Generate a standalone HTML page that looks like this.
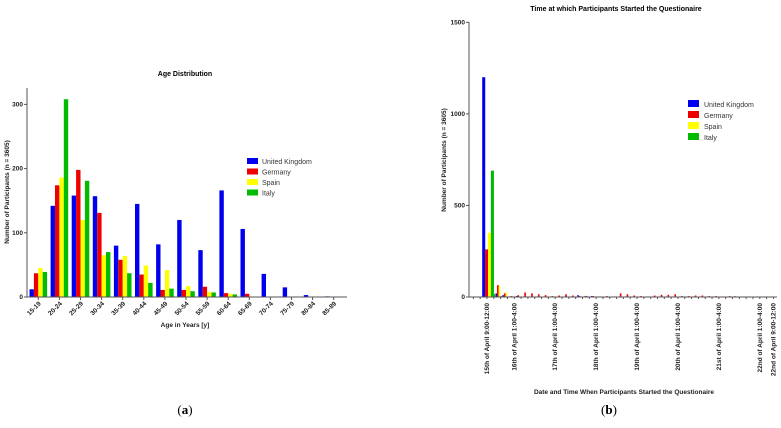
<!DOCTYPE html>
<html><head><meta charset="utf-8"><style>
html,body{margin:0;padding:0;background:#fff;}
svg{display:block;font-family:"Liberation Sans",sans-serif;}
.t{font-size:6.5px;font-weight:bold;fill:#222;}
</style></head><body>
<svg id="s" width="781" height="428" viewBox="0 0 781 428">
<g id="a"></g>
<g id="b"></g>
<text x="185" y="414" font-family="Liberation Serif,serif" font-size="13" text-anchor="middle">(<tspan font-weight="bold">a</tspan>)</text>
<text x="609" y="414" font-family="Liberation Serif,serif" font-size="13" text-anchor="middle">(<tspan font-weight="bold">b</tspan>)</text>
</svg>
<script>
const NS="http://www.w3.org/2000/svg";
const seriesNames=["United Kingdom","Germany","Spain","Italy"];
const colors=["#0000ee","#ee0000","#ffff00","#00bb00"];
const ageCats=["15-19","20-24","25-29","30-34","35-39","40-44","45-49","50-54","55-59","60-64","65-69","70-74","75-79","80-84","85-89"];
const ageUK=[12,142,158,157,80,145,82,120,73,166,106,36,15,3,1];
const ageDE=[37,174,198,131,58,35,11,11,16,6,5,0,0,0,0];
const ageES=[45,186,120,65,64,49,42,17,8,5,0,0,0,0,0];
const ageIT=[39,308,181,70,37,22,13,9,7,4,0,0,0,0,0];
const ageTicks=[0,100,200,300];
const timeLabels=["15th of April 9:00-12:00","16th of April 1:00-4:00","17th of April 1:00-4:00","18th of April 1:00-4:00","19th of April 1:00-4:00","20th of April 1:00-4:00","21st of April 1:00-4:00","22nd of April 1:00-4:00","22nd of April 9:00-12:00"];
const timeLabelSlots=[0,4,10,16,22,28,34,40,42];
const timeUK=[1200,40,20,10,3,5,2,2,3,2,2,2,2,3,10,4,5,3,2,2,2,3,2,2,2,3,2,3,2,2,3,3,3,2,2,2,2,4,2,2,2,2,2];
const timeDE=[260,115,65,20,5,10,25,20,15,10,5,8,15,8,5,6,5,3,5,3,20,15,8,5,3,8,12,12,15,5,5,8,8,5,5,3,5,3,3,3,3,3,3];
const timeES=[350,155,60,25,3,3,3,3,2,2,2,2,2,2,2,2,2,2,2,2,2,2,2,2,2,2,2,2,2,2,2,2,2,2,2,2,2,2,2,2,2,2,2];
const timeIT=[690,15,5,3,1,1,1,1,1,1,1,1,1,1,1,1,1,1,1,1,1,1,1,1,1,1,1,1,1,1,1,1,1,1,1,1,1,1,1,1,1,1,1];
const timeTicks=[0,500,1000,1500];

function el(p,tag,attrs,txt){const e=document.createElementNS(NS,tag);for(const k in attrs)e.setAttribute(k,attrs[k]);if(txt!==undefined)e.textContent=txt;p.appendChild(e);return e;}

// Chart A
(function(){
const g=document.getElementById('a');
const x0=27,x1=347,y0=297,yTop=88;
const yS=v=>y0-v*0.642;
const xS=i=>38.3+i*21.1;
const bw=4.4;
const data=[ageUK,ageDE,ageES,ageIT];
const title=el(g,'text',{x:185,y:76,'text-anchor':'middle','font-size':7,'font-weight':'bold'},"Age Distribution");

data.forEach((arr,s)=>arr.forEach((v,i)=>{
 const r=el(g,'rect',{x:xS(i)-2*bw+s*bw,y:yS(v),width:bw,height:y0-yS(v),fill:colors[s]});
 
 
}));
const ax=el(g,'path',{d:`M${x0} ${yTop}V${y0}H${x1}`,stroke:'#555','stroke-width':1,fill:'none'});

ageTicks.forEach(t=>{
 el(g,'line',{x1:x0-3,x2:x0,y1:yS(t),y2:yS(t),stroke:'#555'});
 const l=el(g,'text',{x:x0-4,y:yS(t)+2,'text-anchor':'end',class:'t'},t);
 
});
ageCats.forEach((c,i)=>{
 el(g,'line',{x1:xS(i),x2:xS(i),y1:y0,y2:y0+3,stroke:'#555'});
 const l=el(g,'text',{x:xS(i)+3,y:y0+7,'text-anchor':'end',class:'t',transform:`rotate(-45 ${xS(i)+3} ${y0+7})`},c);
 
});
const xt=el(g,'text',{x:185,y:327,'text-anchor':'middle',class:'t','font-size':7},"Age in Years [y]");

const yt=el(g,'text',{x:9,y:192,'text-anchor':'middle',class:'t',transform:'rotate(-90 9 192)'},"Number of Participants (n = 3605)");

seriesNames.forEach((n,s)=>{
 const le=el(g,'g',{});
 
 el(le,'rect',{x:247,y:158+s*10.5,width:11,height:6,fill:colors[s]});
 el(le,'text',{x:262,y:164+s*10.5,'font-size':7,fill:'#333'},n);
});
})();

// Chart B
(function(){
const g=document.getElementById('b');
const x0=469,x1=777,y0=297,yTop=22;
const yS=v=>y0-v*(274.7/1500);
const xS=i=>487+i*6.82;
const bw=1.6;
const data=[timeUK,timeDE,timeES,timeIT];
const title=el(g,'text',{x:616,y:11,'text-anchor':'middle','font-size':7,'font-weight':'bold'},"Time at which Participants Started the Questionaire");

data.forEach((arr,s)=>arr.forEach((v,i)=>{
 const r=el(g,'rect',{x:xS(i)-2*bw+s*bw-2,y:yS(v),width:bw,height:y0-yS(v),fill:colors[s]});
 if(i===0){r.setAttribute('width',bw*1.9);r.setAttribute('x',xS(0)-4.8+s*2.9);}
 
 
}));
const ax=el(g,'path',{d:`M${x0} ${yTop}V${y0}H${x1}`,stroke:'#555','stroke-width':1,fill:'none'});

timeTicks.forEach(t=>{
 el(g,'line',{x1:x0-3,x2:x0,y1:yS(t),y2:yS(t),stroke:'#555'});
 const l=el(g,'text',{x:x0-4,y:yS(t)+2,'text-anchor':'end',class:'t'},t);
 
});
for(let i=-2;i<=42;i++){el(g,'line',{x1:xS(i),x2:xS(i),y1:y0,y2:y0+2,stroke:'#555'});}
timeLabels.forEach((c,k)=>{
 const x=xS(timeLabelSlots[k])+2;
 const l=el(g,'text',{x:x,y:y0+6,'text-anchor':'end',class:'t',transform:`rotate(-90 ${x} ${y0+6})`},c);
 
});
const xt=el(g,'text',{x:624,y:394,'text-anchor':'middle',class:'t','font-size':7},"Date and Time When Participants Started the Questionaire");

const yt=el(g,'text',{x:446,y:160,'text-anchor':'middle',class:'t','font-size':7,transform:'rotate(-90 446 160)'},"Number of Participants (n = 3605)");

seriesNames.forEach((n,s)=>{
 const le=el(g,'g',{});
 
 el(le,'rect',{x:688,y:100+s*11,width:11,height:7,fill:colors[s]});
 el(le,'text',{x:704,y:107+s*11,'font-size':7,fill:'#333'},n);
});
})();
</script>
</body></html>
